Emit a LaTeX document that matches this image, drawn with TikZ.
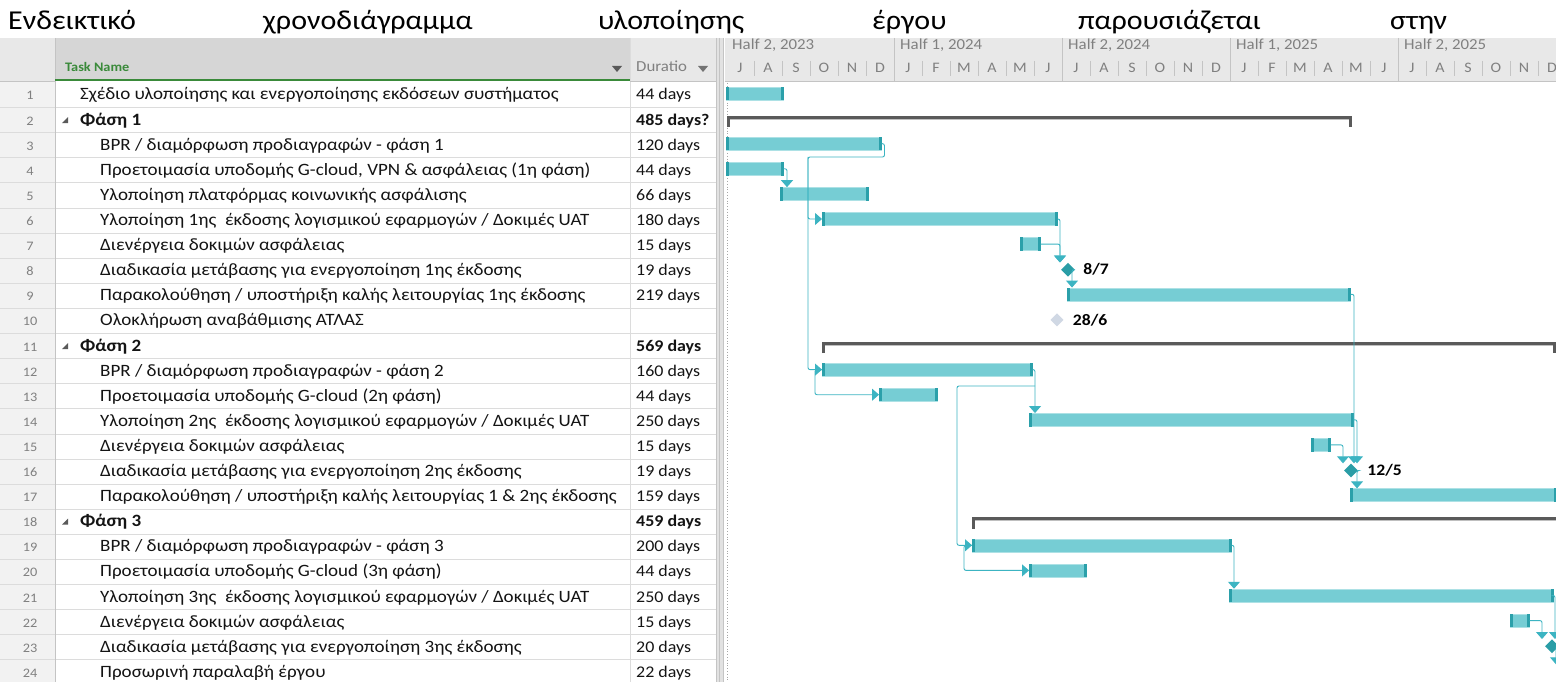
\documentclass[tikz,border=0pt]{standalone}
\usepackage{fontspec}
\setmainfont{Carlito}
\newfontfamily\widefont[FakeStretch=1.1]{Carlito}
\usetikzlibrary{arrows.meta,shapes.geometric}
\definecolor{barfill}{HTML}{76CDD4}
\definecolor{barend}{HTML}{2BA0AA}
\definecolor{linkc}{HTML}{3CB4C2}
\definecolor{mile}{HTML}{2A9DA6}
\definecolor{summ}{HTML}{5A5A5A}
\definecolor{hdr}{HTML}{E8E8E8}
\definecolor{hdrsel}{HTML}{D6D6D6}
\definecolor{gridc}{HTML}{DCDCDC}
\definecolor{numbg}{HTML}{F2F2F2}
\definecolor{hgray}{HTML}{808080}
\definecolor{tgreen}{HTML}{3A8A3A}
\definecolor{ghost}{HTML}{D0D8E4}
\definecolor{splitc}{HTML}{E2E2E2}
\definecolor{vline}{HTML}{C4C4C4}
\tikzset{
  titletxt/.style={anchor=base west, inner sep=0pt, font=\widefont\fontsize{27.3}{30}\selectfont},
  txt/.style={anchor=base west, inner sep=0pt, font=\widefont\fontsize{17.3}{19}\selectfont, text=black!92},
  btxt/.style={txt, font=\widefont\bfseries\fontsize{17.3}{19}\selectfont},
  dtxt/.style={txt, font=\widefont\fontsize{16.3}{18}\selectfont},
  bdtxt/.style={txt, font=\widefont\bfseries\fontsize{16.3}{18}\selectfont},
  num/.style={anchor=base, inner sep=0pt, font=\widefont\fontsize{13}{15}\selectfont, text=hgray},
  hdrtxt/.style={anchor=base west, inner sep=0pt, font=\widefont\fontsize{15.3}{17}\selectfont, text=hgray},
  mon/.style={anchor=base, inner sep=0pt, font=\widefont\fontsize{14.5}{16}\selectfont, text=hgray},
  bar/.style={fill=barfill, draw=barfill!60!white, line width=0.5pt, minimum height=13pt, inner sep=0pt, anchor=west},
  mstone/.style={diamond, fill=mile, minimum width=14pt, minimum height=14pt, inner sep=0pt},
  ghoststone/.style={diamond, fill=ghost, minimum width=13pt, minimum height=13pt, inner sep=0pt},
  mlabel/.style={anchor=west, inner sep=0pt, font=\widefont\bfseries\fontsize{16}{18}\selectfont},
  link/.style={draw=linkc, line width=0.9pt, rounded corners=2pt, -{Triangle[width=12pt,length=7pt]}},
  sumline/.style={draw=summ, line width=3pt},
  tick/.style={draw=vline, line width=0.6pt},
}
\newcommand\gbar[4]{%
  \node[bar, minimum width={(#4-#3)*1pt}] (#1) at (#3,{95+(#2-1)*25.1-1.5}) {};
  \fill[barend] (#1.north west) rectangle ([xshift=3pt]#1.south west);
  \fill[barend] (#1.north east) rectangle ([xshift=-3pt]#1.south east);
}
\newcommand\summbar[4]{%
  \coordinate (#1a) at (#3,{95+(#2-1)*25.1-3});
  \coordinate (#1b) at (#4,{95+(#2-1)*25.1-3});
  \draw[black!25, line width=1pt] ([yshift=-2.2pt]#1a) -- ([yshift=-2.2pt]#1b);
  \draw[sumline] ([yshift=-10pt]#1a) -- (#1a) -- (#1b) -- ([yshift=-10pt]#1b);
}
\newcommand\task[4]{%
  \node[num] (nr#1) at (30,{95+(#1-1)*25.1+5}) {#1};
  \node[txt] (tn#1) at (#2,{95+(#1-1)*25.1+5}) {#3};
  \node[dtxt] (td#1) at (636,{95+(#1-1)*25.1+5}) {#4};
}
\newcommand\sumtask[3]{%
  \node[num] (nr#1) at (30,{95+(#1-1)*25.1+5}) {#1};
  \fill[summ] (68,{95+(#1-1)*25.1-3}) -- (68,{95+(#1-1)*25.1+3}) -- (62,{95+(#1-1)*25.1+3}) -- cycle;
  \node[btxt] (tn#1) at (80,{95+(#1-1)*25.1+5}) {#2};
  \node[bdtxt] (td#1) at (636,{95+(#1-1)*25.1+5}) {#3};
}
\begin{document}
\begin{tikzpicture}[x=1pt,y=-1pt]
\useasboundingbox (0,0) rectangle (1556,682);
\fill[white] (0,0) rectangle (1556,682);
% title
\node[titletxt] (w1) at (8,29.5) {Ενδεικτικό};
\node[titletxt] (w2) at (263,29.5) {χρονοδιάγραμμα};
\node[titletxt] (w3) at (598,29.5) {υλοποίησης};
\node[titletxt] (w4) at (872,29.5) {έργου};
\node[titletxt] (w5) at (1078,29.5) {παρουσιάζεται};
\node[titletxt] (w6) at (1390,29.5) {στην};
% header backgrounds
\fill[hdr] (0,38) rectangle (716,81);
\fill[hdrsel] (55,38) rectangle (630,81);
\fill[hdr] (725,38) rectangle (1556,81);
\fill[numbg] (0,81) rectangle (55,682);
% table grid
\foreach \k in {1,...,24} \draw[gridc, line width=0.8pt] (0,{82.5+\k*25.1}) -- (716,{82.5+\k*25.1});
\draw[vline, line width=1pt] (55,38) -- (55,682);
\draw[gridc, line width=1pt] (630,38) -- (630,682);
\draw[vline, line width=1pt] (716,38) -- (716,682);
\draw[vline, line width=1.2pt] (0,81.5) -- (55,81.5) (630,81.5) -- (716,81.5) (725,81.5) -- (1556,81.5);
\draw[tgreen, line width=2pt] (55,80.5) -- (630,80.5);
% splitter
\fill[splitc] (717,38) rectangle (724,682);
\draw[vline, line width=0.8pt] (719,38) -- (719,682) (723.5,38) -- (723.5,682);
\draw[black!35, line width=0.8pt, dotted] (727,83) -- (727,682);
% column headers
\node[anchor=base west, inner sep=0pt, font=\widefont\bfseries\fontsize{13}{15}\selectfont, text=tgreen] (hTask) at (65,72) {Task Name};
\fill[black!65] (612,66) -- (622,66) -- (617,72) -- cycle;
\node[hdrtxt] (hDur) at (636,72) {Duratio};
\fill[black!55] (698,66) -- (708,66) -- (703,72) -- cycle;
% timescale
\begin{scope}
\clip (725,38) rectangle (1556,82);
\foreach \h/\lab in {0/{Half 2, 2023},1/{Half 1, 2024},2/{Half 2, 2024},3/{Half 1, 2025},4/{Half 2, 2025}}
  \node[hdrtxt] (half\h) at ({732+168*\h},50) {\lab};
\foreach \h in {1,...,4} \draw[tick] ({726+168*\h},38) -- ({726+168*\h},81);
\foreach \k in {1,...,29} \draw[tick] ({726+28*\k},61) -- ({726+28*\k},76);
\foreach \m [count=\k from 0] in {J,A,S,O,N,D,J,F,M,A,M,J,J,A,S,O,N,D,J,F,M,A,M,J,J,A,S,O,N,D}
  \node[mon] (mo\k) at ({740+28*\k},72.5) {\m};
\end{scope}
% table rows
\task{1}{80}{Σχέδιο υλοποίησης και ενεργοποίησης εκδόσεων συστήματος}{44 days}
\sumtask{2}{Φάση 1}{485 days?}
\task{3}{100}{BPR / διαμόρφωση προδιαγραφών - φάση 1}{120 days}
\task{4}{100}{Προετοιμασία υποδομής G-cloud, VPN \& ασφάλειας (1η φάση)}{44 days}
\task{5}{100}{Υλοποίηση πλατφόρμας κοινωνικής ασφάλισης}{66 days}
\task{6}{100}{Υλοποίηση 1ης\ \ έκδοσης λογισμικού εφαρμογών / Δοκιμές UAT}{180 days}
\task{7}{100}{Διενέργεια δοκιμών ασφάλειας}{15 days}
\task{8}{100}{Διαδικασία μετάβασης για ενεργοποίηση 1ης έκδοσης}{19 days}
\task{9}{100}{Παρακολούθηση / υποστήριξη καλής λειτουργίας 1ης έκδοσης}{219 days}
\task{10}{100}{Ολοκλήρωση αναβάθμισης ΑΤΛΑΣ}{}
\sumtask{11}{Φάση 2}{569 days}
\task{12}{100}{BPR / διαμόρφωση προδιαγραφών - φάση 2}{160 days}
\task{13}{100}{Προετοιμασία υποδομής G-cloud (2η φάση)}{44 days}
\task{14}{100}{Υλοποίηση 2ης\ \ έκδοσης λογισμικού εφαρμογών / Δοκιμές UAT}{250 days}
\task{15}{100}{Διενέργεια δοκιμών ασφάλειας}{15 days}
\task{16}{100}{Διαδικασία μετάβασης για ενεργοποίηση 2ης έκδοσης}{19 days}
\task{17}{100}{Παρακολούθηση / υποστήριξη καλής λειτουργίας 1 \& 2ης έκδοσης}{159 days}
\sumtask{18}{Φάση 3}{459 days}
\task{19}{100}{BPR / διαμόρφωση προδιαγραφών - φάση 3}{200 days}
\task{20}{100}{Προετοιμασία υποδομής G-cloud (3η φάση)}{44 days}
\task{21}{100}{Υλοποίηση 3ης\ \ έκδοσης λογισμικού εφαρμογών / Δοκιμές UAT}{250 days}
\task{22}{100}{Διενέργεια δοκιμών ασφάλειας}{15 days}
\task{23}{100}{Διαδικασία μετάβασης για ενεργοποίηση 3ης έκδοσης}{20 days}
\task{24}{100}{Προσωρινή παραλαβή έργου}{22 days}
% gantt
\begin{scope}
\clip (725,82) rectangle (1556,682);
\summbar{s2}{2}{728}{1350}
\summbar{s11}{11}{823}{1554}
\summbar{s18}{18}{973}{1580}
\gbar{b1}{1}{726}{783}
\gbar{b3}{3}{726}{881}
\gbar{b4}{4}{726}{783}
\gbar{b5}{5}{780}{868}
\gbar{b6}{6}{822}{1057}
\gbar{b7}{7}{1020}{1040}
\gbar{b9}{9}{1067}{1350}
\gbar{b12}{12}{822}{1032}
\gbar{b13}{13}{879}{937}
\gbar{b14}{14}{1029}{1353}
\gbar{b15}{15}{1311}{1330}
\gbar{b17}{17}{1350}{1556}
\gbar{b19}{19}{972}{1231}
\gbar{b20}{20}{1029}{1086}
\gbar{b21}{21}{1229}{1553}
\gbar{b22}{22}{1510}{1529}
\node[mstone] (m8) at (1068,{95+7*25.1-1}) {};
\node[mlabel] (l8) at ([xshift=8pt]m8.east) {8/7};
\node[ghoststone] (m10) at (1057,{95+9*25.1-1}) {};
\node[mlabel] (l10) at ([xshift=9pt]m10.east) {28/6};
\node[mstone] (m16) at (1351,{95+15*25.1-1}) {};
\node[mlabel] (l16) at ([xshift=9pt]m16.east) {12/5};
\node[mstone] (m23) at (1552,{95+22*25.1-1}) {};
\coordinate (e24) at (1556,{95+23*25.1-8});
% links
\coordinate (jA) at (808,157);
\draw[link] (b3.east) -- ++(3,0) |- (jA) |- (b12.west);
\draw[link] (jA) |- (b6.west);
\draw[link] (b4.east) -| ([xshift=7pt]b5.north west);
\draw[link] (b6.east) -| ([xshift=-8pt]m8.north);
\draw[link] (b7.east) -| ([xshift=-8pt]m8.north);
\draw[link] (m8.east) -| ([xshift=5pt]b9.north west);
\draw[link] (b12.west) -- ++(-7,0) |- (b13.west);
\coordinate (jC) at (1035,386);
\coordinate (jD) at (957,386);
\draw[link] (b12.east) -| ([xshift=6pt]b14.north west);
\draw[link] (jC) -- (jD) |- (b19.west);
\draw[link] (b9.east) -| ([xshift=3pt]m16.north);
\draw[link] (b14.east) -| ([xshift=6pt]m16.north);
\draw[link] (b15.east) -| ([xshift=-8pt]m16.north);
\draw[link] (m16.east) -| ([xshift=7pt]b17.north west);
\draw[link] (b19.west) -- ++(-8,0) |- (b20.west);
\draw[link] (b19.east) -| ([xshift=5pt]b21.north west);
\draw[link] (b22.east) -| ([xshift=-10pt]m23.north);
\draw[link] (b21.east) -| ([xshift=3pt]m23.north);
\draw[link] (m23.east) -| (e24);
\end{scope}
\end{tikzpicture}
\end{document}
